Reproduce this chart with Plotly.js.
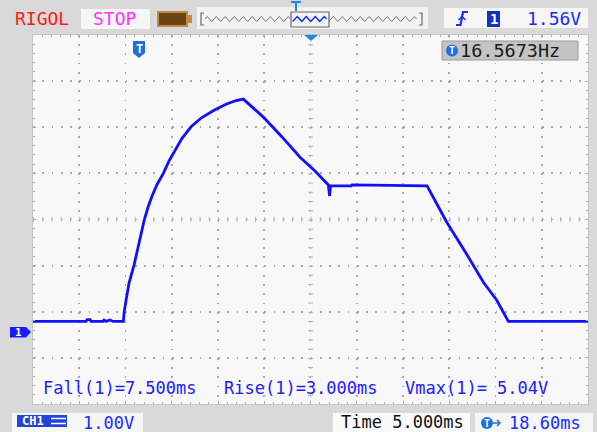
<!DOCTYPE html>
<html>
<head>
<meta charset="utf-8">
<script src="https://cdn.plot.ly/plotly-3.0.1.min.js"></script>
<style>html,body{margin:0;padding:0;background:#d9d9d9;}#chart{width:597px;height:432px;}</style>
</head>
<body>
<div id="chart"></div>
<script>
// ---- data (time in ms relative to trigger, voltage in V) ----
const timeMs = [-11.40,-5.66,-5.55,-5.23,-5.12,-3.83,-3.72,-3.50,-3.07,-2.75,-1.63,-1.54,-1.34,-1.02,-0.48,0.06,0.64,1.04,1.47,2.01,2.69,3.31,3.96,4.71,5.69,6.77,8.17,9.47,10.55,11.34,13.50,15.52,17.47,19.09,20.53,20.66,20.77,23.0,23.1,31.20,33.33,35.42,37.29,38.74,39.99,48.60];
const volts  = [0.23,0.23,0.27,0.27,0.23,0.23,0.26,0.23,0.26,0.23,0.23,0.44,0.69,1.06,1.45,1.95,2.44,2.71,2.95,3.20,3.44,3.71,3.95,4.20,4.45,4.64,4.81,4.94,5.02,5.05,4.66,4.23,3.79,3.49,3.19,2.95,3.17,3.17,3.19,3.17,2.38,1.71,1.08,0.69,0.23,0.23];
const measLabels = ["Fall(1)=7.500ms", "Rise(1)=3.000ms", "Vmax(1)= 5.04V"];
const freqLabel = "16.5673Hz";
const trigLevel = "1.56V";
const vScale = "1.00V";
const timeBase = "Time 5.000ms";
const delay = "18.60ms";

// ---- geometry helpers (pixel -> paper) ----
const L = 33, R = 588, T = 35, B = 404;
const W = R - L, H = B - T;
const px = x => (x - L) / W;
const py = y => (B - y) / H;
const path = pts => pts.map((p, i) => (p === 'Z' ? 'Z' : (i ? 'L' : 'M') + px(p[0]).toFixed(5) + ',' + py(p[1]).toFixed(5))).join(' ');
const rect = (x0, y0, x1, y1, fill, line, lw) => ({type:'rect', xref:'paper', yref:'paper', x0:px(x0), x1:px(x1), y0:py(y1), y1:py(y0), fillcolor:fill, line:{color:line||fill, width:lw||0}, layer:'above'});
const pshape = (pts, fill, line, lw) => ({type:'path', xref:'paper', yref:'paper', path:path(pts), fillcolor:fill||'rgba(0,0,0,0)', line:{color:line||fill, width:lw||0}, layer:'above'});
const txt = (s, x, y, color, size, anchor, bold) => ({text: bold ? '<b>'+s+'</b>' : s, xref:'paper', yref:'paper', x:px(x), y:py(y), xanchor:anchor||'center', yanchor:'middle', showarrow:false, font:{family:'DejaVu Sans Mono, monospace', size:size, color:color}});

const shapes = [];
const ann = [];

// center cross lines with tick marks
shapes.push({type:'line', xref:'x', yref:'y', x0:-11.4, x1:48.6, y0:2.44, y1:2.44, line:{color:'#b4b4b4', width:5, dash:'1px,8.25px'}, layer:'below'});
shapes.push({type:'line', xref:'x', yref:'y', x0:18.6, x1:18.6, y0:6.44, y1:-1.56, line:{color:'#b4b4b4', width:5, dash:'1px,8.225px'}, layer:'below'});

// top bar
ann.push(txt('RIGOL', 42, 18, '#ff1a1a', 18));
shapes.push(rect(81, 9, 150, 29, '#f6f6f6'));
ann.push(txt('STOP', 115, 19, '#ff33ff', 18));
shapes.push(rect(158, 12, 187, 26, '#6b4515', '#c08a40', 2));
shapes.push(rect(187, 15, 192, 23, '#c08a40'));
shapes.push(rect(197, 7, 428, 29, '#f2f2f2'));
shapes.push(pshape([[204,13],[201,13],[201,25],[204,25]], null, '#666', 1.2));
shapes.push(pshape([[419,13],[422,13],[422,25],[419,25]], null, '#666', 1.2));
// overview zigzag (decoration)
(function(){
  const g = [], b = [];
  for (let x = 205; x <= 418; x += 2.25) {
    const k = Math.round((x - 205) / 2.25) % 4;
    const y = [19, 16.5, 19, 21.5][k];
    if (x >= 292 && x <= 328) b.push([x, y]); else g.push([x, y]);
  }
  const left = g.filter(p => p[0] < 292), right = g.filter(p => p[0] > 328);
  shapes.push(pshape(left, null, '#777', 1));
  shapes.push(pshape(right, null, '#777', 1));
  shapes.push(pshape(b, null, '#1a2bff', 1.4));
})();
shapes.push(rect(291, 12, 329, 27, 'rgba(0,0,0,0)', '#666', 1.2));
shapes.push(pshape([[291,2],[301,2]], null, '#1e88e5', 2));
shapes.push(pshape([[296,2],[296,11]], null, '#1e88e5', 2));
// trigger box
shapes.push(rect(444, 8, 588, 28, '#f6f6f6'));
shapes.push(pshape([[456,25],[460.5,25],[463,12],[468,12]], null, '#1a2bff', 2.2));
shapes.push(pshape([[458.5,20],[462,16.5],[465.5,20]], null, '#1a2bff', 1.5));
shapes.push(rect(487, 11, 500, 27, '#1030c8'));
ann.push(txt('1', 493.5, 19, '#ffffff', 14, 'center', true));
ann.push(txt(trigLevel, 554, 18, '#1a2bff', 18));

// markers on plot edges
shapes.push(pshape([[304,35],[318,35],[311,41],'Z'], '#1e88e5', '#1e88e5', 0));
shapes.push(pshape([[133,41],[145,41],[145,53],[139,58],[133,53],'Z'], '#1e6fe0', '#1e6fe0', 0));
ann.push(txt('T', 139, 48.5, '#ffffff', 12, 'center', true));
shapes.push(pshape([[10,327],[26,327],[31,332],[26,337.5],[10,337.5],'Z'], '#1a1aff', '#1a1aff', 0));
ann.push(txt('1', 18, 332, '#ffffff', 11, 'center', true));

// frequency box
shapes.push({type:'rect', xref:'paper', yref:'paper', x0:px(442), x1:px(578), y0:py(60), y1:py(41), fillcolor:'#c4c4c4', line:{color:'#9a9a9a', width:1}, layer:'above'});
shapes.push({type:'circle', xref:'paper', yref:'paper', x0:px(446), x1:px(458), y0:py(56.5), y1:py(44.5), fillcolor:'#1e6fe0', line:{width:0}, layer:'above'});
ann.push(txt('T', 452, 50.5, '#ffffff', 10, 'center', true));
ann.push(txt(freqLabel, 510, 50.5, '#1a1a1a', 18.5));

// measurements
ann.push(txt(measLabels[0], 41, 388, '#2020ff', 17, 'left'));
ann.push(txt(measLabels[1], 222, 388, '#2020ff', 17, 'left'));
ann.push(txt(measLabels[2], 403, 388, '#2020ff', 17, 'left'));

// bottom bar
shapes.push(rect(12, 413, 143, 433, '#f6f6f6'));
shapes.push(rect(17, 415, 67, 427, '#2244dd'));
ann.push(txt('CH1', 32.5, 421, '#ffffff', 12, 'center', true));
shapes.push(pshape([[51,418.5],[66,418.5]], null, '#ffffff', 1.5));
shapes.push(pshape([[51,423.5],[66,423.5]], null, '#ffffff', 1.5));
ann.push(txt(vScale, 108, 422.5, '#1a2bff', 17));
shapes.push(rect(333, 413, 470, 433, '#fafafa'));
ann.push(txt(timeBase, 402, 422, '#111111', 17));
shapes.push(rect(475, 413, 593, 433, '#f6f6f6'));
shapes.push({type:'circle', xref:'paper', yref:'paper', x0:px(481), x1:px(493), y0:py(429), y1:py(417), fillcolor:'#1e6fe0', line:{width:0}, layer:'above'});
ann.push(txt('T', 487, 423, '#ffffff', 10, 'center', true));
shapes.push(pshape([[493,423],[500,423]], null, '#1e6fe0', 1.5));
shapes.push(pshape([[497,420],[500,423],[497,426]], null, '#1e6fe0', 1.5));
ann.push(txt(delay, 545, 422.5, '#1a2bff', 17));

const trace = {
  x: timeMs, y: volts, type:'scatter', mode:'lines',
  line:{color:'#1010ff', width:2.8},
  hoverinfo:'skip', showlegend:false
};

const axisCommon = {showticklabels:false, ticks:'inside', ticklen:3, tickcolor:'#aaaaaa', showline:true, linecolor:'#c4c4c4', linewidth:1, mirror:'allticks', zeroline:false, showgrid:true, gridcolor:'#a8a8a8', gridwidth:1.8, fixedrange:true};

const layout = {
  width:597, height:432,
  margin:{l:L, r:597-R, t:T, b:432-B, pad:0},
  paper_bgcolor:'#d9d9d9', plot_bgcolor:'#f8f8f8',
  xaxis: Object.assign({}, axisCommon, {range:[-11.4, 48.6], tick0:18.6, dtick:5, griddash:'1.8px,7.425px',
    minor:{dtick:1, tick0:18.6, ticks:'inside', ticklen:2, tickcolor:'#b0b0b0', showgrid:false}}),
  yaxis: Object.assign({}, axisCommon, {range:[-1.56, 6.44], tick0:2.44, dtick:1, griddash:'1.8px,7.45px',
    minor:{dtick:0.2, tick0:2.44, ticks:'inside', ticklen:2, tickcolor:'#b0b0b0', showgrid:false}}),
  shapes: shapes,
  annotations: ann,
  showlegend:false
};

Plotly.newPlot('chart', [trace], layout, {displayModeBar:false, staticPlot:true});
</script>
</body>
</html>
